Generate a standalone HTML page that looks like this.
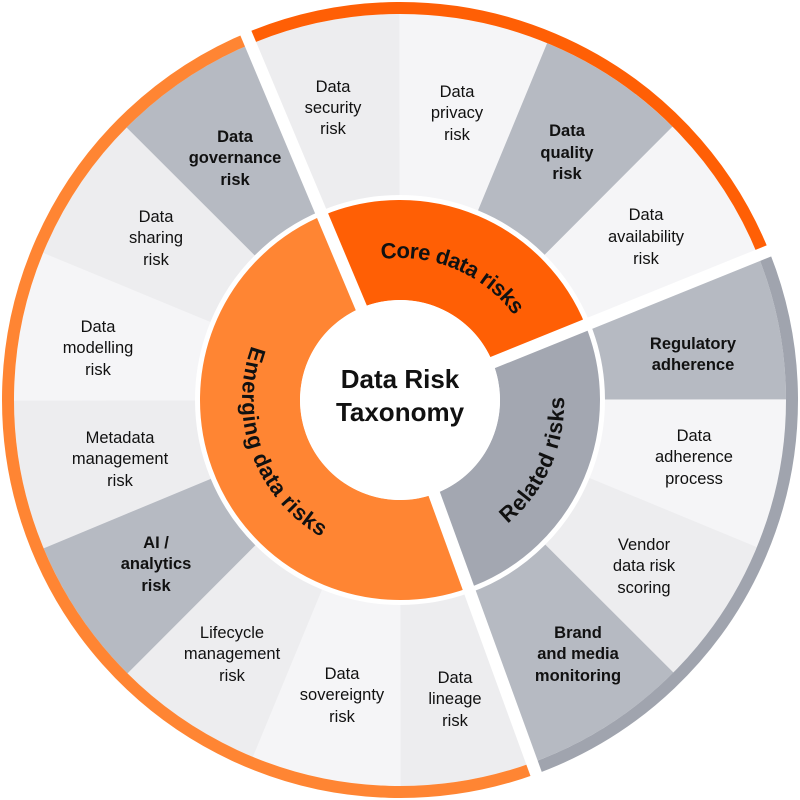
<!DOCTYPE html>
<html><head><meta charset="utf-8"><style>
html,body{margin:0;padding:0;background:#fff;width:800px;height:800px;overflow:hidden;}
svg{display:block;}
text{font-family:"Liberation Sans",Arial,sans-serif;fill:#111;}
.l{font-size:16.5px;text-anchor:middle;}
.b{font-weight:bold;}
.c{font-size:22px;font-weight:bold;}
</style></head><body>
<svg width="800" height="800" viewBox="0 0 800 800" xmlns="http://www.w3.org/2000/svg">
<defs>
<path id="pCore" d="M285.1,303.6 A150,150 0 0 1 549.2,415.7"/>
<path id="pRel" d="M376.5,548.2 A148,148 0 0 0 494.4,283.4"/>
<path id="pEm" d="M325,270.1 A150,150 0 0 0 426,547.7"/>
</defs>
<g fill="none">
<g stroke-width="181">
<circle cx="400" cy="400" r="295.5" pathLength="360" stroke="#ededef" stroke-dasharray="22 338" transform="rotate(-112 400 400)"/>
<circle cx="400" cy="400" r="295.5" pathLength="360" stroke="#f5f5f7" stroke-dasharray="22.5 337.5" transform="rotate(-90 400 400)"/>
<circle cx="400" cy="400" r="295.5" pathLength="360" stroke="#b6bac2" stroke-dasharray="22.5 337.5" transform="rotate(-67.5 400 400)"/>
<circle cx="400" cy="400" r="295.5" pathLength="360" stroke="#f5f5f7" stroke-dasharray="23 337" transform="rotate(-45 400 400)"/>
<circle cx="400" cy="400" r="295.5" pathLength="360" stroke="#b6bac2" stroke-dasharray="22 338" transform="rotate(-22 400 400)"/>
<circle cx="400" cy="400" r="295.5" pathLength="360" stroke="#f5f5f7" stroke-dasharray="22.5 337.5" transform="rotate(0 400 400)"/>
<circle cx="400" cy="400" r="295.5" pathLength="360" stroke="#ededef" stroke-dasharray="22.5 337.5" transform="rotate(22.5 400 400)"/>
<circle cx="400" cy="400" r="295.5" pathLength="360" stroke="#b6bac2" stroke-dasharray="25 335" transform="rotate(45 400 400)"/>
<circle cx="400" cy="400" r="295.5" pathLength="360" stroke="#ededef" stroke-dasharray="20 340" transform="rotate(70 400 400)"/>
<circle cx="400" cy="400" r="295.5" pathLength="360" stroke="#f5f5f7" stroke-dasharray="22.5 337.5" transform="rotate(90 400 400)"/>
<circle cx="400" cy="400" r="295.5" pathLength="360" stroke="#ededef" stroke-dasharray="22.5 337.5" transform="rotate(112.5 400 400)"/>
<circle cx="400" cy="400" r="295.5" pathLength="360" stroke="#b6bac2" stroke-dasharray="22.5 337.5" transform="rotate(135 400 400)"/>
<circle cx="400" cy="400" r="295.5" pathLength="360" stroke="#ededef" stroke-dasharray="22.5 337.5" transform="rotate(157.5 400 400)"/>
<circle cx="400" cy="400" r="295.5" pathLength="360" stroke="#f5f5f7" stroke-dasharray="22.5 337.5" transform="rotate(180 400 400)"/>
<circle cx="400" cy="400" r="295.5" pathLength="360" stroke="#ededef" stroke-dasharray="22.5 337.5" transform="rotate(202.5 400 400)"/>
<circle cx="400" cy="400" r="295.5" pathLength="360" stroke="#b6bac2" stroke-dasharray="22.5 337.5" transform="rotate(225 400 400)"/>
</g>
<g stroke-width="12">
<circle cx="400" cy="400" r="392" pathLength="360" stroke="#ff5f05" stroke-dasharray="90 270" transform="rotate(-112 400 400)"/>
<circle cx="400" cy="400" r="392" pathLength="360" stroke="#a0a4ae" stroke-dasharray="92 268" transform="rotate(-22 400 400)"/>
<circle cx="400" cy="400" r="392" pathLength="360" stroke="#ff8533" stroke-dasharray="178 182" transform="rotate(70 400 400)"/>
</g>
<g stroke-width="100">
<circle cx="400" cy="400" r="150" pathLength="360" stroke="#ff5f05" stroke-dasharray="90 270" transform="rotate(-112 400 400)"/>
<circle cx="400" cy="400" r="150" pathLength="360" stroke="#a3a7b1" stroke-dasharray="92 268" transform="rotate(-22 400 400)"/>
<circle cx="400" cy="400" r="150" pathLength="360" stroke="#ff8533" stroke-dasharray="178 182" transform="rotate(70 400 400)"/>
</g>
</g>
<g stroke="#fff" stroke-width="12">
<line x1="400" y1="400" x2="244.2" y2="29.2"/>
<line x1="400" y1="400" x2="778.6" y2="247"/>
<line x1="400" y1="400" x2="537.6" y2="778"/>
</g>
<circle cx="400" cy="400" r="100" fill="#fff"/>
<text x="400" y="388" class="b" style="font-size:26px;text-anchor:middle">Data Risk</text>
<text x="400" y="421" class="b" style="font-size:26px;text-anchor:middle">Taxonomy</text>
<text class="c" dominant-baseline="central"><textPath href="#pCore" startOffset="50%" text-anchor="middle">Core data risks</textPath></text>
<text class="c" dominant-baseline="central"><textPath href="#pRel" startOffset="50%" text-anchor="middle">Related risks</textPath></text>
<text class="c" dominant-baseline="central"><textPath href="#pEm" startOffset="50%" text-anchor="middle">Emerging data risks</textPath></text>
<g>
<text class="l" x="333" y="92">Data</text><text class="l" x="333" y="113">security</text><text class="l" x="333" y="134">risk</text>
<text class="l" x="457" y="97">Data</text><text class="l" x="457" y="118">privacy</text><text class="l" x="457" y="140">risk</text>
<text class="l b" x="567" y="136">Data</text><text class="l b" x="567" y="158">quality</text><text class="l b" x="567" y="179">risk</text>
<text class="l" x="646" y="220">Data</text><text class="l" x="646" y="242">availability</text><text class="l" x="646" y="264">risk</text>
<text class="l b" x="693" y="349">Regulatory</text><text class="l b" x="693" y="370">adherence</text>
<text class="l" x="694" y="441">Data</text><text class="l" x="694" y="462">adherence</text><text class="l" x="694" y="484">process</text>
<text class="l" x="644" y="550">Vendor</text><text class="l" x="644" y="571">data risk</text><text class="l" x="644" y="593">scoring</text>
<text class="l b" x="578" y="638">Brand</text><text class="l b" x="578" y="659">and media</text><text class="l b" x="578" y="681">monitoring</text>
<text class="l" x="455" y="683">Data</text><text class="l" x="455" y="704">lineage</text><text class="l" x="455" y="726">risk</text>
<text class="l" x="342" y="679">Data</text><text class="l" x="342" y="700">sovereignty</text><text class="l" x="342" y="722">risk</text>
<text class="l" x="232" y="638">Lifecycle</text><text class="l" x="232" y="659">management</text><text class="l" x="232" y="681">risk</text>
<text class="l b" x="156" y="548">AI /</text><text class="l b" x="156" y="569">analytics</text><text class="l b" x="156" y="591">risk</text>
<text class="l" x="120" y="443">Metadata</text><text class="l" x="120" y="464">management</text><text class="l" x="120" y="486">risk</text>
<text class="l" x="98" y="332">Data</text><text class="l" x="98" y="353">modelling</text><text class="l" x="98" y="375">risk</text>
<text class="l" x="156" y="222">Data</text><text class="l" x="156" y="243">sharing</text><text class="l" x="156" y="265">risk</text>
<text class="l b" x="235" y="142">Data</text><text class="l b" x="235" y="163">governance</text><text class="l b" x="235" y="185">risk</text>
</g>
</svg>
</body></html>
